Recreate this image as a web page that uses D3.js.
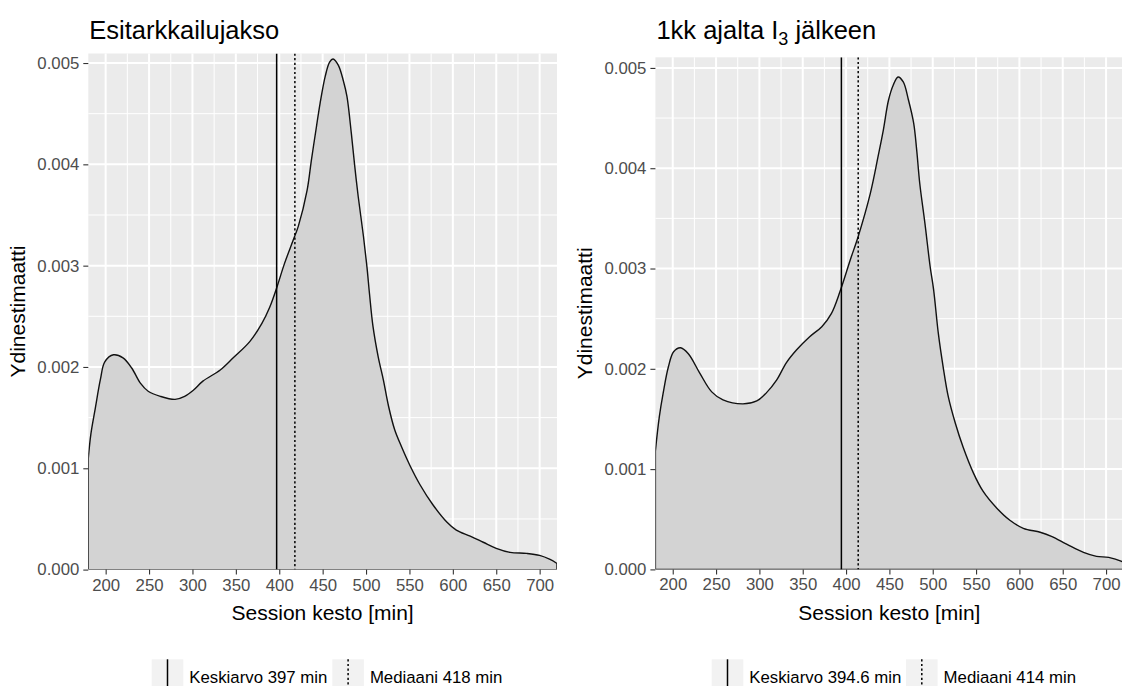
<!DOCTYPE html>
<html>
<head>
<meta charset="utf-8">
<script src="https://cdn.jsdelivr.net/npm/d3@7"></script>
<style>
  html, body { margin: 0; padding: 0; background: #fff; }
  svg { display: block; font-family: "Liberation Sans", Arial, sans-serif; }
</style>
</head>
<body>
<svg id="chart" width="1122" height="686"></svg>
<script>
// values
const xTicks = [200, 250, 300, 350, 400, 450, 500, 550, 600, 650, 700];
const yTicks = [0, 0.001, 0.002, 0.003, 0.004, 0.005];

const preX = [180, 183, 188, 194, 199, 209, 220, 230, 240, 249, 263, 280, 291, 301, 312, 332, 347, 366, 380, 389,
  397, 406, 416, 422, 432, 437, 443, 447, 453, 458, 462, 468, 474, 478, 483, 487, 491, 497, 501, 504, 508, 514,
  520, 526, 533, 541, 551, 562, 577, 593, 604, 620, 635, 650, 666, 685, 700, 712, 720];
const preY = [0.00110, 0.00134, 0.00159, 0.00188, 0.00205, 0.00212, 0.00209, 0.00199, 0.00184, 0.00176, 0.00171,
  0.00168, 0.00171, 0.00177, 0.00186, 0.00197, 0.00209, 0.00225, 0.00243, 0.00259, 0.00278, 0.00302, 0.00325,
  0.00339, 0.00374, 0.00404, 0.00438, 0.00460, 0.00487, 0.00501, 0.00504, 0.00498, 0.00482, 0.00467, 0.00431,
  0.00398, 0.00368, 0.00329, 0.00299, 0.00272, 0.00240, 0.00210, 0.00187, 0.00161, 0.00138, 0.00121, 0.00102,
  0.00084, 0.00064, 0.00047, 0.00039, 0.00033, 0.00027, 0.00021, 0.00017, 0.00016, 0.00014, 0.00010, 0.00006];

const postX = [180, 184.5, 189, 195, 201, 209, 218, 231, 245, 258, 281, 297, 308, 320, 331, 343, 358, 372, 383, 393,
  405, 414, 428, 437, 443, 449, 454.5, 460, 466, 472, 478, 481.5, 485, 491, 497, 501, 506.5, 512, 518, 526, 535,
  547, 558, 574, 589, 604.5, 624, 637, 655, 674, 689, 703, 718, 720];
const postY = [0.00118, 0.00152, 0.00176, 0.00202, 0.00217, 0.00221, 0.00215, 0.00196, 0.00177, 0.00169, 0.00165,
  0.00168, 0.00176, 0.00189, 0.00206, 0.00219, 0.00232, 0.00242, 0.00255, 0.00277, 0.00309, 0.00332, 0.00375,
  0.00412, 0.00438, 0.00468, 0.00483, 0.00491, 0.00486, 0.00468, 0.00445, 0.00418, 0.00385, 0.00345, 0.00302,
  0.00279, 0.00235, 0.00202, 0.00172, 0.00146, 0.00122, 0.00096, 0.00078, 0.00061, 0.00049, 0.00041, 0.00037,
  0.00033, 0.00025, 0.00017, 0.00013, 0.00012, 0.00008, 0.00007];

const preStats = [397, 418];
const postStats = [394.6, 414];
const preLegend = ["Keskiarvo 397 min", "Mediaani 418 min"];
const postLegend = ["Keskiarvo 394.6 min", "Mediaani 414 min"];

const svg = d3.select('#chart');
const fmt = d3.format('.3f');

function drawPanel(o) {
  const data = o.xs.map((x, i) => ({ x: x, y: o.ys[i] }));

  const x = d3.scaleLinear().domain([180, 720]).range([o.left, o.right]);
  const y = d3.scaleLinear().domain([0, o.ymax]).range([o.bottom, o.top]);

  const clipId = 'clip-' + o.id;
  svg.append('clipPath').attr('id', clipId)
    .append('rect')
    .attr('x', o.left).attr('y', o.top)
    .attr('width', o.right - o.left).attr('height', o.bottom - o.top);

  const g = svg.append('g');

  g.append('rect')
    .attr('x', o.left).attr('y', o.top)
    .attr('width', o.right - o.left).attr('height', o.bottom - o.top)
    .attr('fill', '#ebebeb');

  // minor grid
  const xMinor = xTicks.slice(0, -1).map((t, i) => (t + xTicks[i + 1]) / 2);
  const yMinor = yTicks.slice(0, -1).map((t, i) => (t + yTicks[i + 1]) / 2);
  g.selectAll('.xminor').data(xMinor).join('line')
    .attr('x1', d => x(d)).attr('x2', d => x(d))
    .attr('y1', o.top).attr('y2', o.bottom)
    .attr('stroke', '#fff').attr('stroke-width', 1);
  g.selectAll('.yminor').data(yMinor).join('line')
    .attr('x1', o.left).attr('x2', o.right)
    .attr('y1', d => y(d)).attr('y2', d => y(d))
    .attr('stroke', '#fff').attr('stroke-width', 1);

  // major grid
  g.selectAll('.xmajor').data(xTicks).join('line')
    .attr('x1', d => x(d)).attr('x2', d => x(d))
    .attr('y1', o.top).attr('y2', o.bottom)
    .attr('stroke', '#fff').attr('stroke-width', 2);
  g.selectAll('.ymajor').data(yTicks).join('line')
    .attr('x1', o.left).attr('x2', o.right)
    .attr('y1', d => y(d)).attr('y2', d => y(d))
    .attr('stroke', '#fff').attr('stroke-width', 2);

  const area = d3.area()
    .x(d => x(d.x))
    .y0(y(0))
    .y1(d => y(d.y))
    .curve(d3.curveCatmullRom.alpha(0.5));

  const plot = g.append('g').attr('clip-path', `url(#${clipId})`);

  plot.append('path')
    .datum(data)
    .attr('fill', '#d3d3d3')
    .attr('stroke', '#111')
    .attr('stroke-width', 1.4)
    .attr('stroke-linejoin', 'round')
    .attr('d', area);

  // mean and median
  plot.selectAll('.vline').data(o.stats).join('line')
    .attr('x1', d => x(d)).attr('x2', d => x(d))
    .attr('y1', o.top).attr('y2', o.bottom)
    .attr('stroke', '#000')
    .attr('stroke-width', 1.5)
    .attr('stroke-dasharray', (d, i) => i === 1 ? '2.2,2.4' : null);

  // axes
  const xAxis = g.append('g')
    .attr('transform', `translate(0,${o.bottom})`)
    .call(d3.axisBottom(x).tickValues(xTicks).tickSize(5).tickPadding(4));
  const yAxis = g.append('g')
    .attr('transform', `translate(${o.left},0)`)
    .call(d3.axisLeft(y).tickValues(yTicks).tickFormat(fmt).tickSize(5).tickPadding(4));
  [xAxis, yAxis].forEach(a => {
    a.select('.domain').remove();
    a.selectAll('line').attr('stroke', '#333').attr('stroke-width', 1.1);
    a.selectAll('text')
      .attr('fill', '#4d4d4d')
      .style('font-size', '16.8px')
      .style('font-family', '"Liberation Sans", Arial, sans-serif');
  });

  // axis titles
  g.append('text')
    .attr('x', (o.left + o.right) / 2)
    .attr('y', 620)
    .attr('text-anchor', 'middle')
    .style('font-size', '21px')
    .text('Session kesto [min]');

  g.append('text')
    .attr('transform', `translate(${o.ylabX},${(o.top + o.bottom) / 2}) rotate(-90)`)
    .attr('text-anchor', 'middle')
    .style('font-size', '21px')
    .text('Ydinestimaatti');

  // title
  const title = g.append('text')
    .attr('x', o.left + 1)
    .attr('y', 38.5)
    .style('font-size', '25.5px');
  o.title(title);

  // legend
  const keyW = 31.6;
  const lg = g.append('g');
  o.legend.forEach((label, i) => {
    const kx = o.keyX[i];
    lg.append('rect')
      .attr('x', kx).attr('y', 659.3)
      .attr('width', keyW).attr('height', 34)
      .attr('fill', '#f2f2f2');
    lg.append('line')
      .attr('x1', kx + keyW / 2).attr('x2', kx + keyW / 2)
      .attr('y1', 659.3).attr('y2', 693)
      .attr('stroke', '#000').attr('stroke-width', 1.5)
      .attr('stroke-dasharray', i === 1 ? '2.2,2.4' : null);
    lg.append('text')
      .attr('x', kx + keyW + 6)
      .attr('y', 683)
      .style('font-size', '16.8px')
      .text(label);
  });
}

drawPanel({
  id: 'pre', xs: preX, ys: preY, stats: preStats, legend: preLegend,
  left: 88.3, right: 557, top: 53.5, bottom: 569.6, ymax: 0.005094,
  ylabX: 25, keyX: [151.7, 332.3],
  title: t => t.text('Esitarkkailujakso')
});

drawPanel({
  id: 'post', xs: postX, ys: postY, stats: postStats, legend: postLegend,
  left: 655.4, right: 1123.4, top: 57.3, bottom: 569.4, ymax: 0.005106,
  ylabX: 592, keyX: [711.7, 906],
  title: t => {
    t.append('tspan').text('1kk ajalta I');
    t.append('tspan').attr('dy', 6).style('font-size', '18px').text('3');
    t.append('tspan').attr('dy', -6).text(' jälkeen');
  }
});
</script>
</body>
</html>
